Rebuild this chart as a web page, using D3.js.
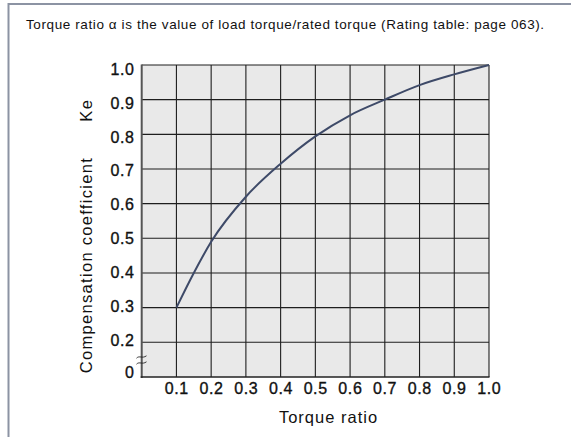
<!DOCTYPE html>
<html><head><meta charset="utf-8">
<script src="https://cdn.jsdelivr.net/npm/d3@7"></script>
<style>
html,body{margin:0;padding:0;background:#fff;}
svg{display:block;font-family:"Liberation Sans",Arial,Helvetica,sans-serif;}
</style></head>
<body>
<svg id="chart" width="571" height="437"></svg>
<script>
const noteText = "Torque ratio \u03b1 is the value of load torque/rated torque (Rating table: page 063).";
const xTitle = "Torque ratio";
const yTitle = "Compensation coefficient      Ke";
const xTicks = [0.1,0.2,0.3,0.4,0.5,0.6,0.7,0.8,0.9,1.0];
const xGrid = [0,0.1,0.2,0.3,0.4,0.5,0.6,0.7,0.8,0.9,1.0];
const yTicks = [0,0.2,0.3,0.4,0.5,0.6,0.7,0.8,0.9,1.0];
const torqueRatio = [0.1,0.15,0.2,0.3,0.4,0.5,0.6,0.7,0.8,0.9,1.0];
const ke =          [0.3,0.40,0.49,0.62,0.715,0.794,0.855,0.90,0.942,0.973,1.0];

const svg = d3.select("#chart");
const L=141.7, R=489, T=65, B=377;
const x = d3.scaleLinear().domain([0,1]).range([L,R]);
const y = d3.scaleLinear().domain([0,0.2,1.0]).range([B,342.3,T]);
const yLab = d3.scaleLinear().domain([0,0.2,1.0]).range([378,345.5,75]);

// outer frame
svg.append("path").attr("d","M8.5,437 V4 H571").attr("fill","none")
  .attr("stroke","#8c93a3").attr("stroke-width",2);

svg.append("text").attr("x",26).attr("y",29).attr("font-size",13.5)
  .attr("letter-spacing",0.6).attr("fill","#111").text(noteText);

// plot bg
svg.append("rect").attr("x",L).attr("y",T).attr("width",R-L).attr("height",B-T).attr("fill","#e9e9e9");

// grid
const g = svg.append("g");
g.selectAll("line.v").data(xGrid.slice(1)).join("line")
  .attr("x1",d=>x(d)).attr("x2",d=>x(d)).attr("y1",T).attr("y2",B)
  .attr("stroke","#1e1e1e").attr("stroke-width",1.1);
g.selectAll("line.h").data(yTicks.slice(1)).join("line")
  .attr("x1",L).attr("x2",R).attr("y1",d=>y(d)).attr("y2",d=>y(d))
  .attr("stroke","#1e1e1e").attr("stroke-width",1.1);
// axes
svg.append("line").attr("x1",L).attr("x2",L).attr("y1",T-0.5).attr("y2",B+1)
  .attr("stroke","#555").attr("stroke-width",2);
svg.append("line").attr("x1",L-1).attr("x2",R+0.5).attr("y1",B).attr("y2",B)
  .attr("stroke","#222").attr("stroke-width",1.6);

// curve
svg.append("path").datum(torqueRatio.map((d,i)=>[d,ke[i]]))
  .attr("d",d3.line().x(d=>x(d[0])).y(d=>y(d[1])).curve(d3.curveMonotoneX))
  .attr("fill","none").attr("stroke","#3e4a68").attr("stroke-width",2);

// break marks
[357,363].forEach(yy=>{
  svg.append("path").attr("d",`M136.5,${yy+1.2} C139.5,${yy-2} 142,${yy+2} 146.5,${yy-1.2}`)
    .attr("fill","none").attr("stroke","#222").attr("stroke-width",0.9);
});

// tick labels
const tickStyle = sel => sel.attr("font-size",16).attr("letter-spacing",0.6)
  .attr("fill","#111").attr("stroke","#111").attr("stroke-width",0.35);
svg.append("g").selectAll("text").data(yTicks).join("text")
  .attr("x",134.6).attr("y",d=>yLab(d)).attr("text-anchor","end")
  .call(tickStyle)
  .text(d=>d===0?"0":d3.format(".1f")(d));
svg.append("g").selectAll("text").data(xTicks).join("text")
  .attr("x",d=>x(d)+0.3).attr("y",393.5).attr("text-anchor","middle")
  .call(tickStyle)
  .text(d=>d3.format(".1f")(d));

svg.append("text").attr("x",328.5).attr("y",423).attr("text-anchor","middle")
  .attr("font-size",16.5).attr("letter-spacing",1).attr("fill","#111").text(xTitle);
svg.append("text").attr("transform","translate(92,236) rotate(-90)")
  .attr("text-anchor","middle").attr("font-size",16.5).attr("letter-spacing",1.3).attr("fill","#111")
  .style("white-space","pre").text(yTitle);
</script>
</body></html>
